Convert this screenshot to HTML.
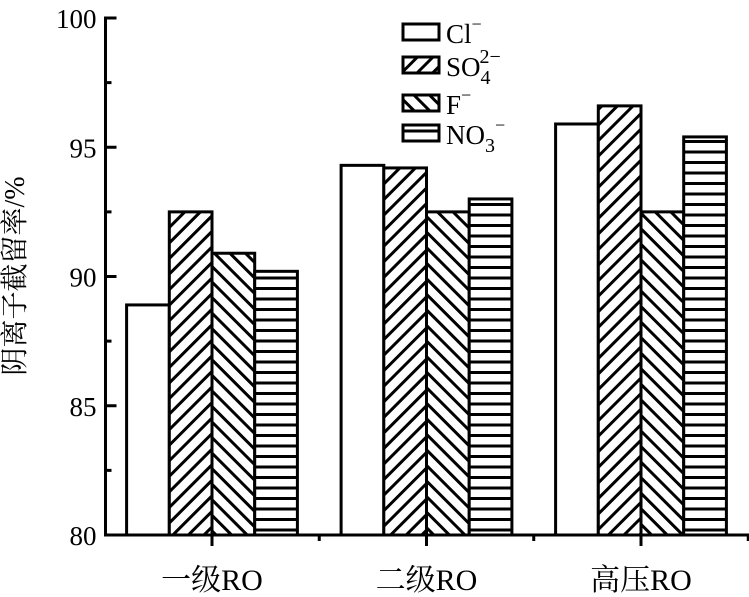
<!DOCTYPE html>
<html><head><meta charset="utf-8">
<style>
html,body{margin:0;padding:0;background:#fff;}
svg{display:block;font-family:"Liberation Serif","Noto Serif CJK SC",serif;}
</style></head>
<body>
<svg id="chart" width="749" height="597" viewBox="0 0 749 597" xmlns="http://www.w3.org/2000/svg">
<defs>
<pattern id="pSO4" patternUnits="userSpaceOnUse" width="11" height="11" patternTransform="rotate(45)">
<rect width="11" height="11" fill="#fff"/><line x1="5.5" y1="0" x2="5.5" y2="11" stroke="#000" stroke-width="3"/></pattern>
<pattern id="pF" patternUnits="userSpaceOnUse" width="11" height="11" patternTransform="rotate(-45)">
<rect width="11" height="11" fill="#fff"/><line x1="5.5" y1="0" x2="5.5" y2="11" stroke="#000" stroke-width="3"/></pattern>
<pattern id="pNO3" patternUnits="userSpaceOnUse" width="10" height="10.5">
<rect width="10" height="10.5" fill="#fff"/><line x1="0" y1="5" x2="10" y2="5" stroke="#000" stroke-width="3"/></pattern>
</defs>
<g id="plot"></g>
<text x="24" y="276" font-size="28" text-anchor="middle" transform="rotate(-90 24 276)">阴离子截留率/%</text>
</svg>
<script>
const categories = ["一级RO","二级RO","高压RO"];
const seriesNames = ["Cl","SO4","F","NO3"];
const clValues = [88.9, 94.3, 95.9];
const so4Values = [92.5, 94.2, 96.6];
const fValues = [90.9, 92.5, 92.5];
const no3Values = [90.2, 93.0, 95.4];
const yTicks = [80, 85, 90, 95, 100];

const NS = "http://www.w3.org/2000/svg";
const svg = document.getElementById('chart');
const g = document.getElementById('plot');
const x0 = 105.5, yTop = 18, yBot = 535, yMin = 80, yMax = 100;
const groupStart = 212, groupStep = 214.5, barW = 42.7;
const y = v => yBot - (v - yMin) / (yMax - yMin) * (yBot - yTop);
const xc = i => groupStart + i * groupStep;
function mk(tag, attrs){const e=document.createElementNS(NS,tag);for(const k in attrs)e.setAttribute(k,attrs[k]);return e;}

const allSeries = [clValues, so4Values, fValues, no3Values];
const fills = ["#fff","url(#pSO4)","url(#pF)","url(#pNO3)"];
allSeries.forEach((vals, s) => {
  vals.forEach((v, i) => {
    const bx = xc(i) - 2 * barW + s * barW;
    const r = mk('rect', {x: bx, y: y(v), width: barW, height: yBot - y(v), fill: fills[s], stroke: '#000', 'stroke-width': 3});
    
    
    g.appendChild(r);
  });
});

const ya = mk('line', {x1: x0, y1: yTop - 1.5, x2: x0, y2: yBot, stroke: '#000', 'stroke-width': 3});


svg.appendChild(ya);
const xa = mk('line', {x1: x0 - 1.5, y1: yBot, x2: 749, y2: yBot, stroke: '#000', 'stroke-width': 3});


svg.appendChild(xa);

yTicks.forEach(t => {
  const tk = mk('line', {x1: x0, y1: y(t), x2: x0 + 11, y2: y(t), stroke: '#000', 'stroke-width': 3});
  
  
  svg.appendChild(tk);
  const lb = mk('text', {x: x0 - 9, y: y(t) + 10, 'font-size': 27, 'text-anchor': 'end'});
  lb.textContent = t;
  
  
  svg.appendChild(lb);
});
for (let t = 82.5; t < 100; t += 5) {
  const tk = mk('line', {x1: x0, y1: y(t), x2: x0 + 6, y2: y(t), stroke: '#000', 'stroke-width': 3});
  
  
  svg.appendChild(tk);
}
categories.forEach((c, i) => {
  const tk = mk('line', {x1: xc(i), y1: yBot, x2: xc(i), y2: yBot + 11, stroke: '#000', 'stroke-width': 3});
  
  
  svg.appendChild(tk);
  const mt = mk('line', {x1: xc(i) + groupStep / 2, y1: yBot, x2: xc(i) + groupStep / 2, y2: yBot + 6, stroke: '#000', 'stroke-width': 3});
  
  
  svg.appendChild(mt);
  const lb = mk('text', {x: xc(i), y: 590, 'font-size': 30, 'text-anchor': 'middle'});
  lb.textContent = c;
  
  
  svg.appendChild(lb);
});

const legY = [24, 57, 95, 125];
const legLabels = [
  'Cl<tspan dy="-13" font-size="18">−</tspan>',
  '',
  'F<tspan dy="-13" font-size="18">−</tspan>',
  'NO<tspan dy="8" font-size="20">3</tspan><tspan dy="-21" font-size="18">−</tspan>'
];
legY.forEach((ly, s) => {
  const r = mk('rect', {x: 403, y: ly, width: 36, height: 16, fill: fills[s], stroke: '#000', 'stroke-width': 3});
  
  
  svg.appendChild(r);
  const t = mk('text', {x: 446, y: ly + 19, 'font-size': 27});
  if (s === 1) {
    t.innerHTML = 'SO<tspan font-size="20" dy="8">4</tspan><tspan font-size="20" dx="-11" dy="-21">2−</tspan>';
  } else {
    t.innerHTML = legLabels[s];
  }
  
  
  svg.appendChild(t);
});
</script>
</body></html>
